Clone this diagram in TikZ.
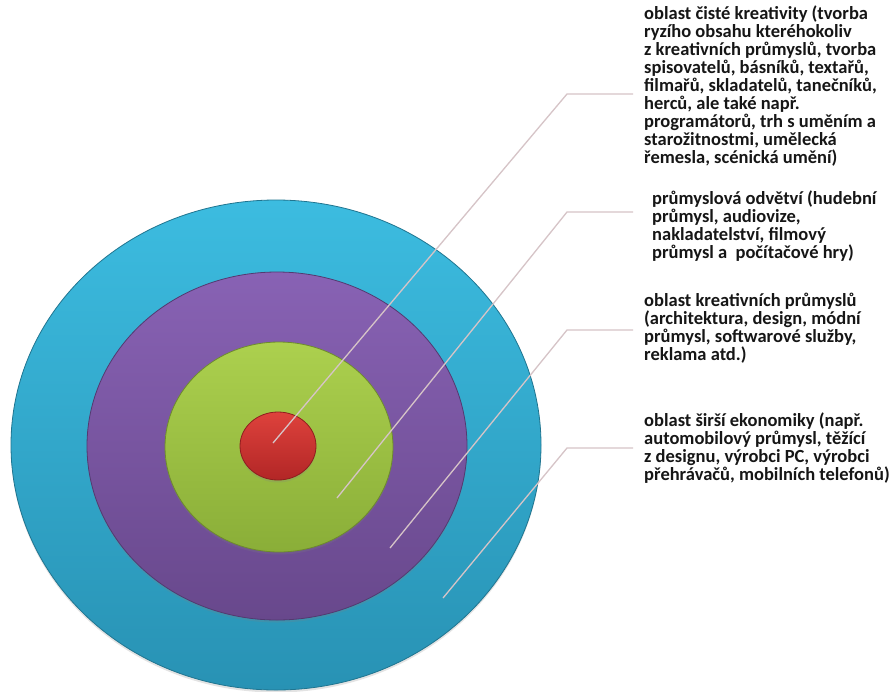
\documentclass[tikz,border=0pt]{standalone}
\usepackage{fontspec}
\setmainfont{Carlito}
\usetikzlibrary{shapes.geometric,shadows}

\definecolor{cyanT}{RGB}{60,188,224}
\definecolor{cyanB}{RGB}{40,146,180}
\definecolor{purpT}{RGB}{136,98,180}
\definecolor{purpB}{RGB}{104,72,140}
\definecolor{grnT}{RGB}{172,208,78}
\definecolor{grnB}{RGB}{138,174,56}
\definecolor{redT}{RGB}{222,66,60}
\definecolor{redB}{RGB}{178,38,38}
\definecolor{leadc}{RGB}{214,196,199}
\definecolor{txtc}{RGB}{22,22,22}

\begin{document}
\begin{tikzpicture}[x=1pt,y=-1pt,
  ring/.style={ellipse,inner sep=0pt,line width=0.8pt,
    drop shadow={opacity=0.22,shadow xshift=0pt,shadow yshift=-2.5pt}},
  leader/.style={draw=leadc,line width=1.3pt},
  lbl/.style={anchor=base west,align=left,inner ysep=0pt,inner xsep=11pt,
    text=txtc,font=\fontsize{18.5}{18}\selectfont\bfseries}]

\path[use as bounding box,fill=white] (0,0) rectangle (896,691);

% rings, outer first
\node[ring,draw=cyanB!80!black,top color=cyanT,bottom color=cyanB,
  minimum width=530pt,minimum height=490pt]   (ecyan) at (276,445) {};
\node[ring,draw=purpB!80!black,top color=purpT,bottom color=purpB,
  minimum width=380pt,minimum height=348pt]   (epurp) at (277,446) {};
\node[ring,draw=grnB!80!black,top color=grnT,bottom color=grnB,
  minimum width=228pt,minimum height=210pt]   (egrn)  at (279,447) {};
\node[ring,draw=redB!80!black,top color=redT,bottom color=redB,
  minimum width=76pt,minimum height=68pt]     (ered)  at (278,446) {};

% leader ends and bends
\coordinate (tred)  at (273,443);  \coordinate (bred)  at (567,94);
\coordinate (tgrn)  at (337,498);  \coordinate (bgrn)  at (567,212);
\coordinate (tpurp) at (390,548);  \coordinate (bpurp) at (567,330);
\coordinate (tcyan) at (443,598);  \coordinate (bcyan) at (567,448);

% labels (placed by the baseline of their last line)
\node[lbl] (lred) at (633,163) {oblast čisté kreativity (tvorba\\
  ryzího obsahu kteréhokoliv\\
  z kreativních průmyslů, tvorba\\
  spisovatelů, básníků, textařů,\\
  filmařů, skladatelů, tanečníků,\\
  herců, ale také např.\\
  programátorů, trh s uměním a\\
  starožitnostmi, umělecká\\
  řemesla, scénická umění)};
\node[lbl,inner xsep=19pt] (lgrn) at (633,258) {průmyslová odvětví (hudební\\
  průmysl, audiovize,\\
  nakladatelství, filmový\\
  průmysl a~ počítačové hry)};
\node[lbl] (lpurp) at (633,360) {oblast kreativních průmyslů\\
  (architektura, design, módní\\
  průmysl, softwarové služby,\\
  reklama atd.)};
\node[lbl] (lcyan) at (633,480) {oblast širší ekonomiky (např.\\
  automobilový průmysl, těžící\\
  z designu, výrobci PC, výrobci\\
  přehrávačů, mobilních telefonů)};

\foreach \t/\b/\l in {% tip/bend/label
    tred/bred/lred,
    tgrn/bgrn/lgrn,
    tpurp/bpurp/lpurp,
    tcyan/bcyan/lcyan}
  \draw[leader] (\t) -- (\b) -- (\b -| \l.west);

\end{tikzpicture}
\end{document}
